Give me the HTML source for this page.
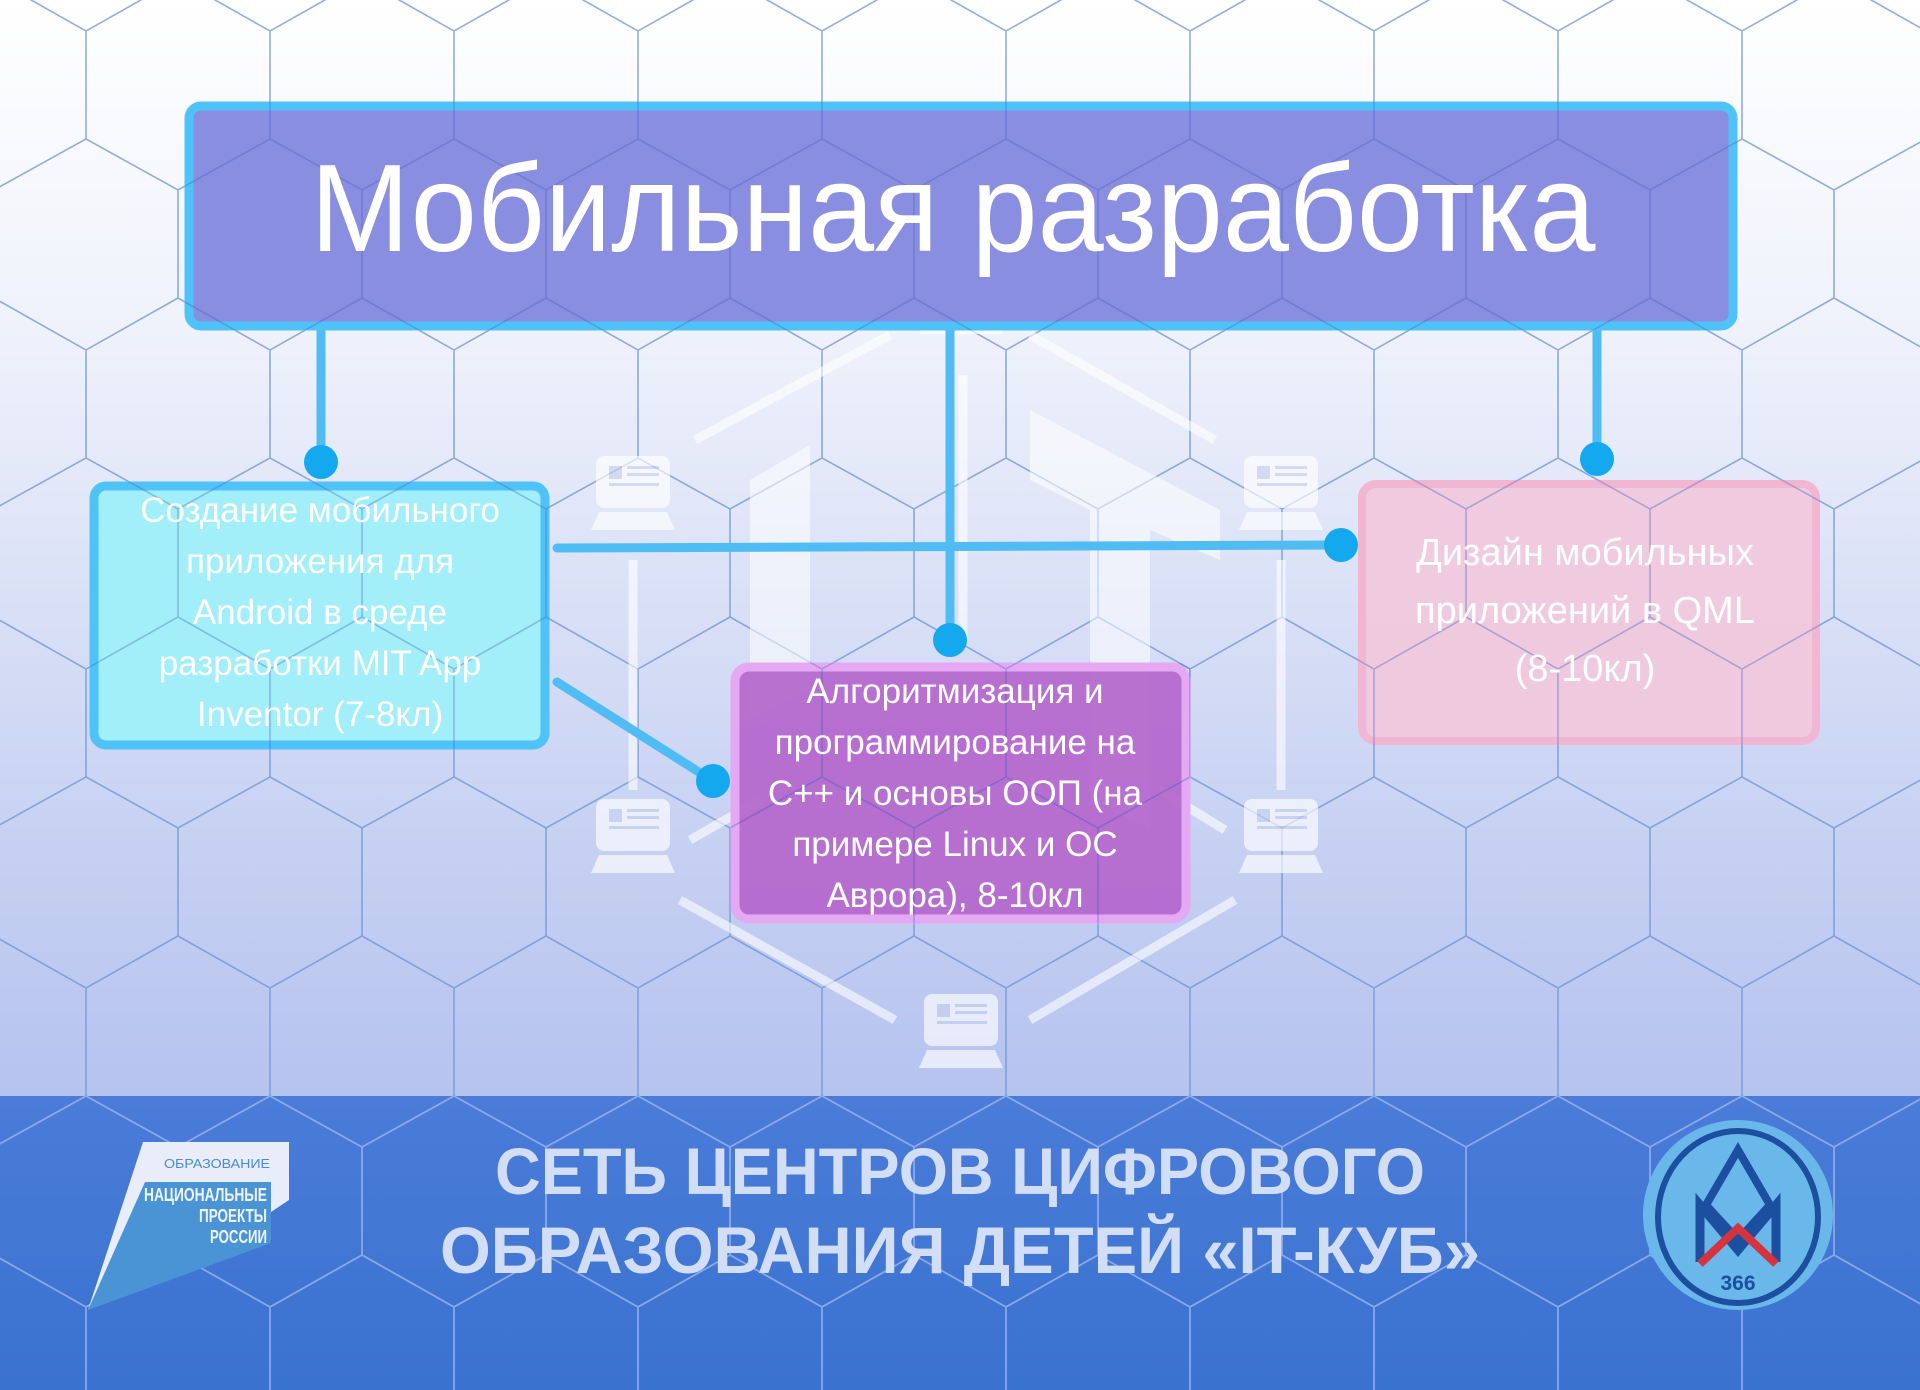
<!DOCTYPE html>
<html><head><meta charset="utf-8"><style>
html,body{margin:0;padding:0;width:1920px;height:1390px;overflow:hidden}
svg{display:block}
text{font-family:"Liberation Sans","DejaVu Sans",sans-serif}
</style></head><body>
<svg width="1920" height="1390" viewBox="0 0 1920 1390" xmlns="http://www.w3.org/2000/svg">
<defs>
<linearGradient id="bg" x1="0" y1="0" x2="0" y2="1">
<stop offset="0" stop-color="#ffffff"/><stop offset="0.25" stop-color="#eef1fb"/><stop offset="0.6" stop-color="#c7d1f2"/><stop offset="1" stop-color="#a2b3ec"/>
</linearGradient>
<linearGradient id="ft" x1="0" y1="0" x2="0" y2="1">
<stop offset="0" stop-color="#4a7cd8"/><stop offset="1" stop-color="#3a72d0"/>
</linearGradient>
<pattern id="hex" patternUnits="userSpaceOnUse" x="86" y="31" width="184" height="319">
<path d="M0 0V108L92 159L184 108M92 159V267L0 319M92 267L184 319M184 0V108" fill="none" stroke="#6a93d4" stroke-width="1.6" stroke-opacity="0.75"/>
</pattern>
<pattern id="hexo" patternUnits="userSpaceOnUse" x="86" y="31" width="184" height="319">
<path d="M0 0V108L92 159L184 108M92 159V267L0 319M92 267L184 319M184 0V108" fill="none" stroke="#3f5fc0" stroke-width="1.6" stroke-opacity="0.35"/>
</pattern>
<pattern id="hex2" patternUnits="userSpaceOnUse" x="86" y="31" width="184" height="319">
<path d="M0 0V108L92 159L184 108M92 159V267L0 319M92 267L184 319M184 0V108" fill="none" stroke="#9db4ee" stroke-width="1.8" stroke-opacity="0.8"/>
</pattern>
<g id="lap">
<rect x="-37" y="-36" width="74" height="52" rx="8" fill="#fff"/>
<rect x="-24" y="-26" width="13" height="13" fill="#c9d3f0"/>
<rect x="-6" y="-26" width="32" height="3" fill="#c9d3f0"/><rect x="-6" y="-19" width="32" height="3" fill="#c9d3f0"/><rect x="-24" y="-9" width="50" height="3" fill="#c9d3f0"/>
<path d="M-34 20H34L42 38H-42Z" fill="#fff"/>
</g>
</defs>
<rect width="1920" height="1390" fill="url(#bg)"/>
<rect width="1920" height="1390" fill="url(#hex)"/>
<g opacity="0.6" stroke="#fff" stroke-width="9" fill="none">
<path d="M695 440L890 335M1030 335L1215 440M690 840L760 800M1225 830L1160 790M680 900L895 1020M1030 1020L1235 900M633 560V790M1281 560V790M963 375V640"/>
</g>
<g opacity="0.55" fill="#fff">
<path d="M750 480L810 445V690L750 720Z"/><path d="M1030 410L1220 510V560L1150 530V830L1090 800V510L1030 480Z"/>
</g>
<g opacity="0.65">
<use href="#lap" x="633" y="492"/><use href="#lap" x="1281" y="492"/><use href="#lap" x="633" y="835"/><use href="#lap" x="1281" y="835"/><use href="#lap" x="961" y="1030"/><use href="#lap" x="961" y="296"/>
</g>
<rect x="0" y="1096" width="1920" height="294" fill="url(#ft)"/>
<rect x="0" y="1096" width="1920" height="294" fill="url(#hex2)"/>
<g stroke="#4fbcf4" stroke-width="9" fill="none" stroke-linecap="round">
<path d="M321 328V462M950 328V640M1597 330V459M557 548L1341 545M557 682L713 781"/>
</g>
<g fill="#14a8ee">
<circle cx="321" cy="462" r="17"/><circle cx="950" cy="640" r="17"/><circle cx="1597" cy="459" r="17"/><circle cx="1341" cy="545" r="17"/><circle cx="713" cy="781" r="17"/>
</g>
<rect x="189" y="106" width="1544" height="220" rx="12" fill="#8a8ee0" stroke="#4fc3f7" stroke-width="9"/>
<rect x="94" y="486" width="451" height="259" rx="12" fill="#a2eef9" stroke="#4fc3f7" stroke-width="9"/>
<rect x="735" y="667" width="451" height="252" rx="14" fill="#b466cc" fill-opacity="0.92" stroke="#e5a8f2" stroke-width="9"/>
<rect x="1362" y="484" width="454" height="257" rx="14" fill="#f2c8dc" fill-opacity="0.9" stroke="#f0b6d2" stroke-width="8"/>
<g>
<clipPath id="bx"><rect x="185" y="102" width="1552" height="228" rx="12"/><rect x="90" y="482" width="459" height="267"/><rect x="731" y="663" width="459" height="260"/><rect x="1358" y="480" width="462" height="265"/></clipPath>
<rect width="1920" height="1390" fill="url(#hexo)" clip-path="url(#bx)"/>
</g>
<text x="953" y="251" font-size="124" fill="#fff" text-anchor="middle" textLength="1285" lengthAdjust="spacingAndGlyphs">Мобильная разработка</text>
<g font-size="35" fill="#fff" text-anchor="middle">
<text x="320" y="522">Создание мобильного</text>
<text x="320" y="573">приложения для</text>
<text x="320" y="624">Android в среде</text>
<text x="320" y="675">разработки MIT App</text>
<text x="320" y="726">Inventor (7-8кл)</text>
</g>
<g font-size="35" fill="#fff" text-anchor="middle">
<text x="955" y="703">Алгоритмизация и</text>
<text x="955" y="754">программирование на</text>
<text x="955" y="805">C++ и основы ООП (на</text>
<text x="955" y="856">примере Linux и ОС</text>
<text x="955" y="907">Аврора), 8-10кл</text>
</g>
<g font-size="38" fill="#fff" text-anchor="middle">
<text x="1585" y="565">Дизайн мобильных</text>
<text x="1585" y="623">приложений в QML</text>
<text x="1585" y="681">(8-10кл)</text>
</g>
<g font-size="66" font-weight="bold" fill="#d2ddf6" text-anchor="middle">
<text x="960" y="1194" textLength="930" lengthAdjust="spacingAndGlyphs">СЕТЬ ЦЕНТРОВ ЦИФРОВОГО</text>
<text x="960" y="1273" textLength="1040" lengthAdjust="spacingAndGlyphs">ОБРАЗОВАНИЯ ДЕТЕЙ «IT-КУБ»</text>
</g>
<path d="M143 1142H289V1200L271 1212L88 1310Z" fill="#e8edf9"/>
<path d="M145 1182H271V1243L88 1310Z" fill="#4a94d6"/>
<text x="270" y="1168" font-size="13" fill="#4a8ad6" text-anchor="end" textLength="106" lengthAdjust="spacingAndGlyphs">ОБРАЗОВАНИЕ</text>
<g font-size="18" font-weight="bold" fill="#eef3fb" text-anchor="end">
<text x="267" y="1201" textLength="123" lengthAdjust="spacingAndGlyphs">НАЦИОНАЛЬНЫЕ</text>
<text x="267" y="1222" textLength="68" lengthAdjust="spacingAndGlyphs">ПРОЕКТЫ</text>
<text x="267" y="1243" textLength="57" lengthAdjust="spacingAndGlyphs">РОССИИ</text>
</g>
<ellipse cx="1738" cy="1215" rx="95" ry="95" fill="#6ab8ea"/>
<ellipse cx="1738" cy="1217" rx="80" ry="86" fill="none" stroke="#1d4fa0" stroke-width="6"/>
<path d="M1738 1150L1770 1205L1738 1240L1706 1205Z" fill="none" stroke="#1d4fa0" stroke-width="8"/>
<path d="M1700 1262V1205L1738 1250L1776 1205V1262" fill="none" stroke="#1d4fa0" stroke-width="9"/>
<path d="M1700 1264L1738 1228L1776 1264" fill="none" stroke="#d7333e" stroke-width="8"/>
<text x="1738" y="1290" font-size="21" font-weight="bold" fill="#1d4fa0" text-anchor="middle">366</text>
</svg>
</body></html>
